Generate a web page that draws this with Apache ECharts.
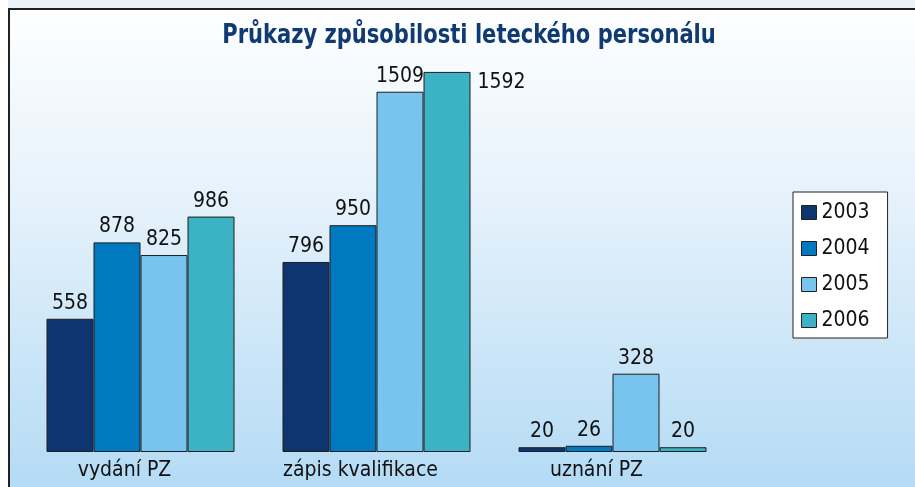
<!DOCTYPE html>
<html>
<head>
<meta charset="utf-8">
<script src="https://cdn.jsdelivr.net/npm/echarts@6/dist/echarts.min.js"></script>
<style>
html,body{margin:0;padding:0;background:#fff;}
#chart{width:915px;height:487px;}
</style>
</head>
<body>
<div id="chart"></div>
<script>
const titleText = 'Průkazy způsobilosti leteckého personálu';
const categories = ['vydání PZ', 'zápis kvalifikace', 'uznání PZ'];
const years = ['2003', '2004', '2005', '2006'];
const v2003 = [558, 796, 20];
const v2004 = [878, 950, 26];
const v2005 = [825, 1509, 328];
const v2006 = [986, 1592, 20];

const FONT = '"Liberation Sans Narrow", "DejaVu Sans Condensed", "Arial Narrow", sans-serif';
const colors = ['#0E3570', '#0079C1', '#77C4EE', '#3CB3C4'];
const seriesValues = [v2003, v2004, v2005, v2006];

const chart = echarts.init(document.getElementById('chart'));

const series = years.map((y, i) => ({
  name: y,
  type: 'bar',
  barWidth: 47,
  barGap: '0%',
  itemStyle: { color: colors[i], borderColor: '#1e1e1e', borderWidth: 1 },
  label: {
    show: true,
    position: 'top',
    distance: 5,
    color: '#111',
    fontFamily: FONT,
    fontSize: 21
  },
  data: seriesValues[i].map((v, j) => {
    if (i === 3 && j === 1) {
      return { value: v, label: { position: [54, 0], align: 'left', verticalAlign: 'top' } };
    }
    return v;
  })
}));

chart.setOption({
  animation: false,
  backgroundColor: new echarts.graphic.LinearGradient(0, 0, 0, 1, [
    { offset: 0, color: '#ffffff' },
    { offset: 0.4, color: '#e6f2fb' },
    { offset: 1, color: '#b4dbf5' }
  ]),
  legend: {
    orient: 'vertical',
    left: 793,
    top: 192,
    padding: [10, 18, 7, 8],
    itemGap: 15,
    itemWidth: 15,
    itemHeight: 14,
    icon: 'rect',
    itemStyle: { borderColor: '#222', borderWidth: 1 },
    backgroundColor: '#ffffff',
    borderColor: '#222',
    borderWidth: 1,
    borderRadius: 0,
    textStyle: { fontFamily: FONT, fontSize: 21, color: '#111', padding: [0, 0, 0, 0] },
    data: years
  },
  grid: { left: 22.5, right: 184.5, top: 70, bottom: 35, containLabel: false },
  xAxis: {
    type: 'category',
    data: categories,
    axisLine: { show: false },
    axisTick: { show: false },
    axisLabel: {
      margin: 8,
      fontFamily: FONT,
      fontSize: 21,
      color: '#111',
      padding: [0, 32, 0, 0]
    }
  },
  yAxis: {
    type: 'value',
    min: 0,
    max: 1600,
    show: false,
    splitLine: { show: false }
  },
  graphic: [
    { type: 'rect', shape: { x: 0, y: 0, width: 915, height: 8 }, style: { fill: '#ECF2F8' }, z: 100 },
    { type: 'rect', shape: { x: 0, y: 0, width: 8, height: 487 }, style: { fill: '#ffffff' }, z: 100 },
    { type: 'line', shape: { x1: 8, y1: 9, x2: 915, y2: 9 }, style: { stroke: '#222', lineWidth: 2 }, z: 101 },
    { type: 'line', shape: { x1: 9, y1: 8, x2: 9, y2: 487 }, style: { stroke: '#222', lineWidth: 2 }, z: 101 },
    {
      type: 'text', x: 469, y: 36, scaleX: 0.9, z: 102,
      style: {
        text: titleText, align: 'center', verticalAlign: 'middle',
        fontFamily: FONT, fontWeight: 'bold', fontSize: 26, fill: '#103A72'
      }
    }
  ],
  series: series
});
</script>
</body>
</html>
